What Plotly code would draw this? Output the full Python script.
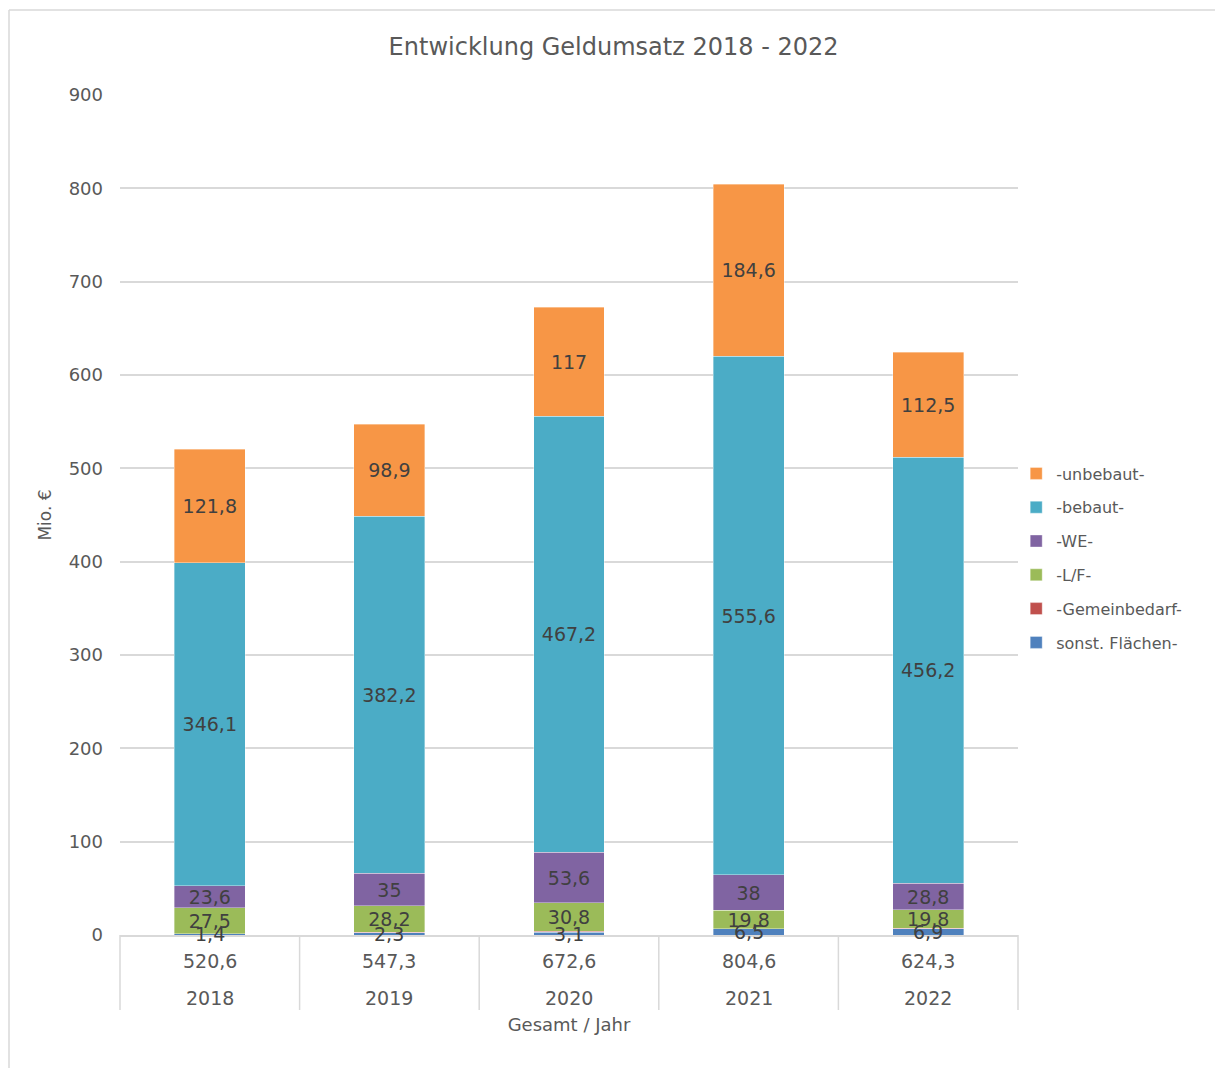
import plotly.graph_objects as go

# Geldumsatz nach Teilmarkt, Mio. €
years = ["2018", "2019", "2020", "2021", "2022"]
totals = [520.6, 547.3, 672.6, 804.6, 624.3]

sonst_flaechen = [1.4, 2.3, 3.1, 6.5, 6.9]
gemeinbedarf = [0.2, 0.7, 0.9, 0.1, 0.1]
lf = [27.5, 28.2, 30.8, 19.8, 19.8]
we = [23.6, 35, 53.6, 38, 28.8]
bebaut = [346.1, 382.2, 467.2, 555.6, 456.2]
unbebaut = [121.8, 98.9, 117, 184.6, 112.5]

y_ticks = [0, 100, 200, 300, 400, 500, 600, 700, 800, 900]

FONT = "DejaVu Sans"
GRID = "#d9d9d9"
TEXT = "#595959"
LABEL = "#404040"


def de(v):
    return f"{v:g}".replace(".", ",")


# (name, values, colour, label mode)
series = [
    ("sonst. Flächen-", sonst_flaechen, "#4F81BD", "outside"),
    ("-Gemeinbedarf-", gemeinbedarf, "#C0504D", None),
    ("-L/F-", lf, "#9BBB59", "inside"),
    ("-WE-", we, "#8064A2", "inside"),
    ("-bebaut-", bebaut, "#4BACC6", "inside"),
    ("-unbebaut-", unbebaut, "#F79646", "inside"),
]

fig = go.Figure()
for k, (name, vals, color, mode) in enumerate(series):
    inside = mode == "inside"
    fig.add_trace(go.Bar(
        name=name,
        legendgroup=f"g{k}",
        legendrank=100 - k,
        x=years,
        y=vals,
        marker=dict(color=color, line=dict(width=0.6, color="rgba(255,255,255,0.6)")),
        width=0.395,
        text=[de(v) for v in vals] if inside else None,
        textposition="inside" if inside else "none",
        insidetextanchor="middle",
        constraintext="none",
        textangle=0,
        textfont=dict(family=FONT, size=19, color=LABEL),
        hoverinfo="name+y",
    ))
    # the thin bottom segment is labelled at its centre, spilling over the axis
    if mode == "outside":
        for i, v in enumerate(vals):
            fig.add_annotation(x=i, xref="x", y=v / 2, yref="y",
                               text=de(v), showarrow=False,
                               xanchor="center", yanchor="middle",
                               font=dict(family=FONT, size=19, color=LABEL))

# Kategorie-Tabelle unter der Achse: Gesamtsumme und Jahr
n = len(years)
for i, (yr, tot) in enumerate(zip(years, totals)):
    fig.add_annotation(x=(i + 0.5) / n, xref="paper", y=0, yref="paper",
                       xanchor="center", yanchor="middle",
                       yshift=-26, text=de(tot), showarrow=False,
                       font=dict(family=FONT, size=19, color=TEXT))
    fig.add_annotation(x=(i + 0.5) / n, xref="paper", y=0, yref="paper",
                       xanchor="center", yanchor="middle",
                       yshift=-63, text=yr, showarrow=False,
                       font=dict(family=FONT, size=19, color=TEXT))

# Trennlinien der Kategorietabelle
for i in range(n + 1):
    fig.add_shape(type="line", xref="paper", yref="paper",
                  x0=i / n, x1=i / n, y0=0, y1=-75 / 840,
                  line=dict(color=GRID, width=1.5))

# Rahmen der Grafik
fig.add_shape(type="line", xref="paper", yref="paper",
              x0=-111 / 898, x1=1.23, y0=925 / 840, y1=925 / 840,
              line=dict(color=GRID, width=1.5))
fig.add_shape(type="line", xref="paper", yref="paper",
              x0=-111 / 898, x1=-111 / 898, y0=925 / 840, y1=-0.2,
              line=dict(color=GRID, width=1.5))

fig.update_layout(
    width=1215, height=1068,
    margin=dict(l=120, r=197, t=95, b=133),
    paper_bgcolor="white", plot_bgcolor="white",
    barmode="stack",
    separators=",.",
    font=dict(family=FONT, color=TEXT),
    title=dict(text="Entwicklung Geldumsatz 2018 - 2022",
               x=0.505, xanchor="center", y=1 - 47 / 1068, yanchor="middle",
               font=dict(family=FONT, size=24, color=TEXT)),
    showlegend=True,
    legend=dict(traceorder="grouped", x=0.998, xanchor="left",
                y=(935 - 558) / 840, yanchor="middle",
                font=dict(family=FONT, size=16, color=TEXT),
                itemwidth=30, tracegroupgap=10,
                bgcolor="rgba(0,0,0,0)"),
    xaxis=dict(type="category", range=[-0.5, n - 0.5],
               showticklabels=False, showgrid=False,
               showline=True, linecolor=GRID, linewidth=1.5,
               ticks="", zeroline=False,
               title=dict(text="Gesamt / Jahr", standoff=83,
                          font=dict(family=FONT, size=18, color=TEXT))),
    yaxis=dict(range=[0, 900], tickvals=y_ticks, showgrid=True,
               gridcolor=GRID, gridwidth=1.5, zeroline=False,
               showline=False, ticks="",
               ticklabelstandoff=16,
               tickfont=dict(family=FONT, size=18, color=TEXT),
               title=dict(text="Mio. €", standoff=12,
                          font=dict(family=FONT, size=17, color=TEXT))),
)

fig.write_html("out.html")
